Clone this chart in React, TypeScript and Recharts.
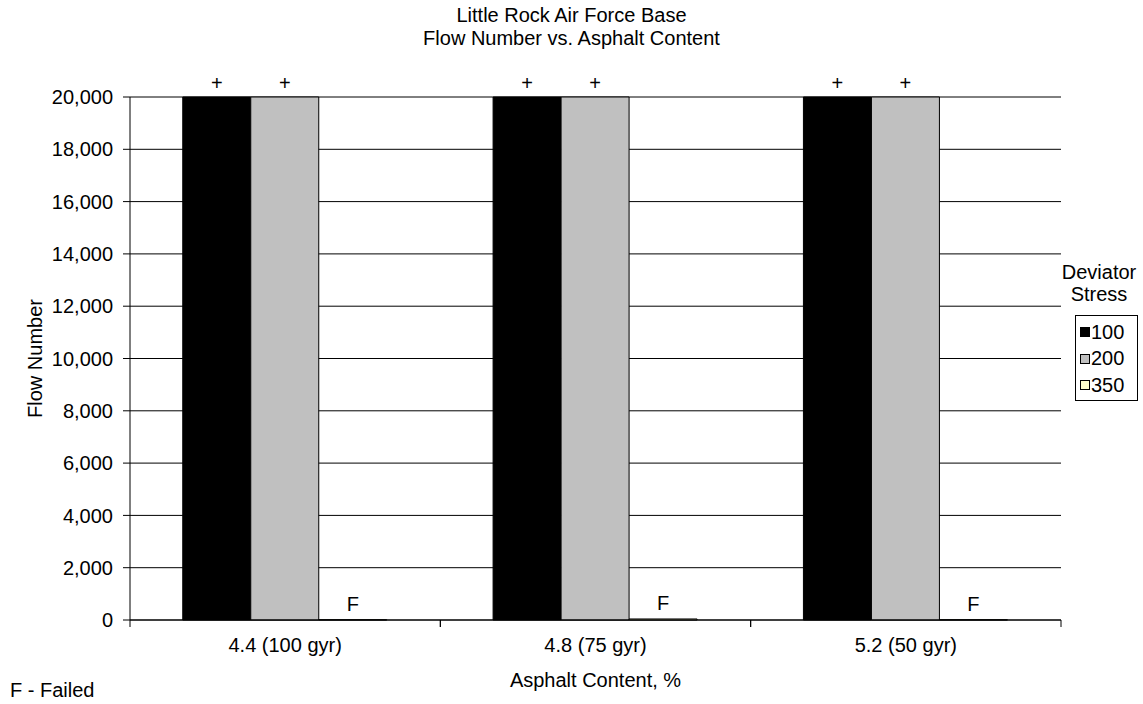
import React from 'react';
import { BarChart, Bar, XAxis, YAxis, CartesianGrid, LabelList } from 'recharts';

const categories = ['4.4 (100 gyr)', '4.8 (75 gyr)', '5.2 (50 gyr)'];
const stress100 = [20000, 20000, 20000];
const stress200 = [20000, 20000, 20000];
const stress350 = [10, 40, 10];
const yTicks = [0, 2000, 4000, 6000, 8000, 10000, 12000, 14000, 16000, 18000, 20000];

const data = categories.map((c, i) => ({
  name: c,
  s100: stress100[i],
  s200: stress200[i],
  s350: stress350[i],
}));

const series = [
  { key: 's100', name: '100', fill: '#000000', label: '+', gap: 7 },
  { key: 's200', name: '200', fill: '#C0C0C0', label: '+', gap: 7 },
  { key: 's350', name: '350', fill: '#FFFFCC', label: 'F', gap: 9 },
];

const font = 'Liberation Sans, Arial, sans-serif';
const FS = 20;

const LegendBox = () => (
  <div style={{ position: 'absolute', left: 1059, top: 261, fontFamily: font, fontSize: FS, color: '#000', width: 84 }}>
    <div style={{ lineHeight: '22px', textAlign: 'center', width: 80 }}>Deviator<br />Stress</div>
    <div style={{ border: '1px solid #000', margin: '10px 0 0 16px', padding: '3px 4px 1px 4px', width: 53, textAlign: 'left', background: '#fff' }}>
      {series.map((s) => (
        <div key={s.key} style={{ display: 'flex', alignItems: 'center', height: 26.5 }}>
          <span style={{ display: 'inline-block', width: 8, height: 8, background: s.fill, border: '1px solid #000', marginRight: 1 }} />
          <span>{s.name}</span>
        </div>
      ))}
    </div>
  </div>
);

const makeLabel = (text: string, gap: number) => (props: any) => {
  const { x, y, width } = props;
  return (
    <text x={x + width / 2} y={y - gap} textAnchor="middle" fontFamily={font} fontSize={FS} fill="#000">
      {text}
    </text>
  );
};

const TICK_GAP = 18;
const CategoryTick = (props: any) => {
  const { x, y, payload } = props;
  const half = payload && payload.offset ? payload.offset : 0;
  const axisY = y - TICK_GAP;
  return (
    <g>
      <line x1={x - half} x2={x - half} y1={axisY} y2={axisY + 7} stroke="#000" />
      <line x1={x + half} x2={x + half} y1={axisY} y2={axisY + 7} stroke="#000" />
      <text x={x} y={y} dy="0.71em" textAnchor="middle" fontFamily={font} fontSize={FS} fill="#000">
        {payload.value}
      </text>
    </g>
  );
};

export default function App() {
  return (
    <div style={{ position: 'absolute', left: 0, top: 0, width: 1143, height: 704, background: '#fff' }}>
      <div style={{ position: 'absolute', top: 4, width: 1143, textAlign: 'center', fontFamily: font, fontSize: FS, lineHeight: '23px', color: '#000' }}>
        Little Rock Air Force Base<br />Flow Number vs. Asphalt Content
      </div>
      <div style={{ position: 'absolute', left: 130, width: 931, top: 668, textAlign: 'center', fontFamily: font, fontSize: FS, lineHeight: '24px', color: '#000' }}>
        Asphalt Content, %
      </div>
      <div style={{ position: 'absolute', left: 10, top: 678, fontFamily: font, fontSize: FS, lineHeight: '24px', color: '#000' }}>F - Failed</div>
      <BarChart
        width={1143}
        height={704}
        data={data}
        margin={{ top: 97, right: 82, bottom: 0, left: 0 }}
        barCategoryGap="17%"
        barGap={0}
      >
        <CartesianGrid vertical={false} stroke="#000" strokeWidth={1} />
        <XAxis
          dataKey="name"
          axisLine={{ stroke: '#000' }}
          tickLine={false}
          tickSize={0}
          tickMargin={TICK_GAP}
          height={84}
          interval={0}
          tick={<CategoryTick />}
        />
        <YAxis
          domain={[0, 20000]}
          ticks={yTicks}
          interval={0}
          axisLine={{ stroke: '#000' }}
          tickLine={{ stroke: '#000' }}
          tickSize={7}
          tickMargin={10}
          tickFormatter={(v: number) => v.toLocaleString('en-US')}
          tick={{ fontFamily: font, fontSize: FS, fill: '#000' }}
          width={130}
          label={{ value: 'Flow Number', angle: -90, position: 'insideLeft', offset: 35, style: { fontFamily: font, fontSize: FS, fill: '#000', textAnchor: 'middle' } }}
        />
        <YAxis yAxisId="right" orientation="right" axisLine={{ stroke: '#808080', strokeWidth: 2 }} tick={false} tickLine={false} width={0} />
        {series.map((s) => (
          <Bar key={s.key} dataKey={s.key} name={s.name} fill={s.fill} stroke="#000" strokeWidth={1} isAnimationActive={false}>
            <LabelList dataKey={s.key} content={makeLabel(s.label, s.gap)} />
          </Bar>
        ))}
      </BarChart>
      <LegendBox />
    </div>
  );
}
